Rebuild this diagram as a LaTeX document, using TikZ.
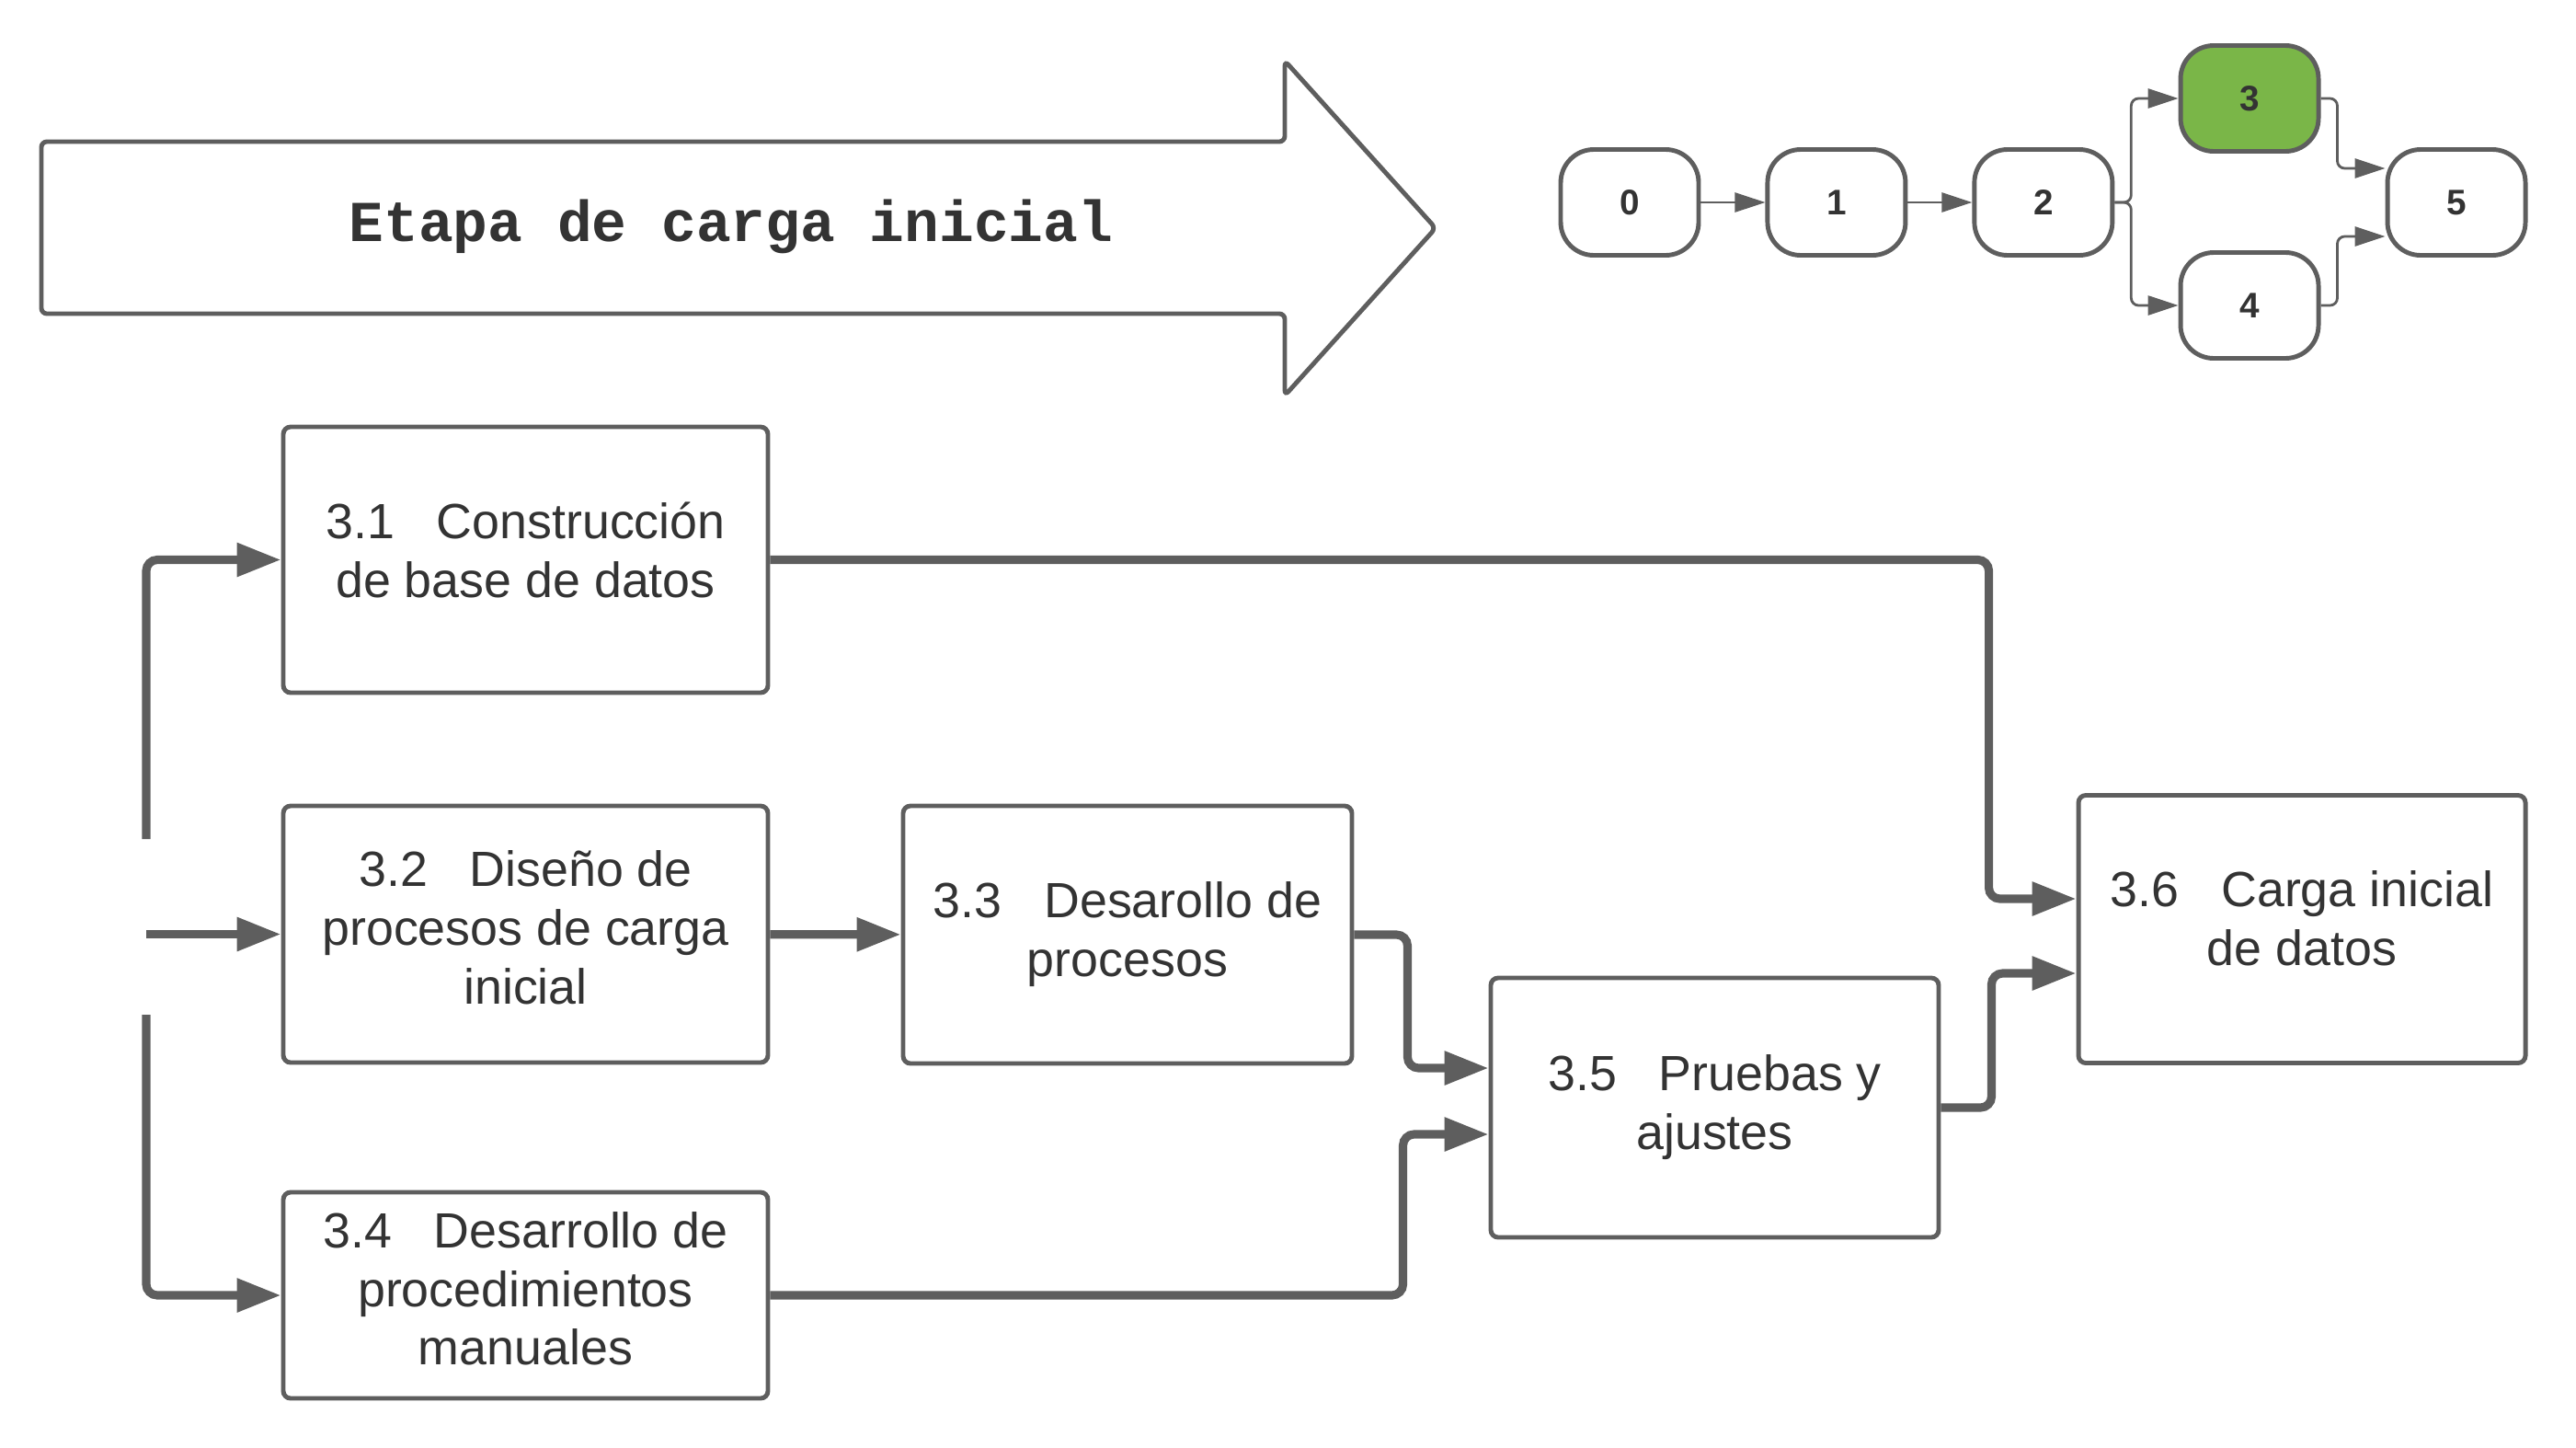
\documentclass[tikz,border=0pt]{standalone}
\usepackage{fontspec}
\setmainfont{Liberation Sans}
\newfontfamily\titlefont{Liberation Mono}
\usepackage{tikz}
\usetikzlibrary{arrows.meta,positioning}
\definecolor{linegray}{HTML}{5E5E5E}
\definecolor{textgray}{HTML}{333333}
\definecolor{stepgreen}{HTML}{7AB648}
\newcommand{\numgap}{\hspace{0.85em}}
\tikzset{
        taskbox/.style={draw=linegray, line width=1.4pt, rounded corners=0.08cm,
            minimum width=#1, align=center, text=textgray, inner sep=0pt,
            font=\fontsize{15.3}{18.2}\selectfont},
        stagenode/.style={draw=linegray, line width=1.4pt, rounded corners=0.36cm,
            minimum width=1.5cm, minimum height=1.15cm, inner sep=0pt,
            text=textgray, font=\fontsize{11}{13}\selectfont\bfseries},
        flow/.style={draw=linegray, line width=2.6pt, rounded corners=0.12cm,
            -{Triangle[length=0.48cm, width=0.35cm]}},
        thinflow/.style={draw=linegray, line width=0.8pt, rounded corners=0.08cm,
            -{Triangle[length=0.33cm, width=0.21cm]}},
    }
\begin{document}
\begin{tikzpicture}
    \useasboundingbox (0,0) rectangle (28.01,-15.73);
    % etapa arrow
    \draw[linegray, line width=1.4pt, rounded corners=0.06cm, fill=white]
        (0.45,-1.54) -- (13.97,-1.54) -- (13.97,-0.66) -- (15.61,-2.48)
        -- (13.97,-4.30) -- (13.97,-3.41) -- (0.45,-3.41) -- cycle;
    \node[text=textgray, font=\titlefont\fontsize{17.9}{21}\selectfont\bfseries] (etapa) at (7.95,-2.46) {Etapa de carga inicial};
    % stage map
    \node[stagenode] (n0) at (17.72,-2.20) {0};
    \node[stagenode, right=0.70cm of n0] (n1) {1};
    \node[stagenode, right=0.70cm of n1] (n2) {2};
    \node[stagenode, fill=stepgreen] (n3) at (24.46,-1.07) {3};
    \node[stagenode] (n4) at (24.46,-3.32) {4};
    \node[stagenode] (n5) at (26.71,-2.20) {5};
    \draw[thinflow] (n0) -- (n1);
    \draw[thinflow] (n1) -- (n2);
    \draw[thinflow] (n2.east) -- ++(0.18,0) |- (n3.west);
    \draw[thinflow] (n2.east) -- ++(0.18,0) |- (n4.west);
    \draw[thinflow] (n3.east) -- ++(0.18,0) |- ([yshift=0.37cm]n5.west);
    \draw[thinflow] (n4.east) -- ++(0.18,0) |- ([yshift=-0.37cm]n5.west);
    % tasks
    \node[taskbox=5.27cm, minimum height=2.89cm, text depth=0.22cm] (b31) at (5.715,-6.085) {3.1\numgap Construcción\\de base de datos};
    \node[taskbox=5.27cm, minimum height=2.79cm, text depth=0.15cm] (b32) at (5.715,-10.155) {3.2\numgap Diseño de\\procesos de carga\\inicial};
    \node[taskbox=5.27cm, minimum height=2.24cm, text depth=0.15cm] (b34) at (5.715,-14.08) {3.4\numgap Desarrollo de\\procedimientos\\manuales};
    \node[taskbox=4.88cm, minimum height=2.80cm] (b33) at (12.26,-10.16) {3.3\numgap Desarollo de\\procesos};
    \node[taskbox=4.87cm, minimum height=2.82cm] (b35) at (18.645,-12.04) {3.5\numgap Pruebas y\\ajustes};
    \node[taskbox=4.86cm, minimum height=2.91cm, text depth=0.24cm] (b36) at (25.03,-10.10) {3.6\numgap Carga inicial\\de datos};
    % left start
    \coordinate (s1) at (1.59,-9.12);
    \coordinate (s2) at (1.59,-10.155);
    \coordinate (s3) at (1.59,-11.03);
    \draw[flow] (s1) |- (b31.west);
    \draw[flow] (s2) -- (b32.west);
    \draw[flow] (s3) |- (b34.west);
    % task links
    \draw[flow] (b32) -- (b33);
    \draw[flow] (b31.east) -| ([xshift=-0.95cm,yshift=0.33cm]b36.west) -- ([yshift=0.33cm]b36.west);
    \draw[flow] (b33.east) -- ++(0.58,0) |- ([yshift=0.43cm]b35.west);
    \draw[flow] (b34.east) -| ([xshift=-0.93cm,yshift=-0.29cm]b35.west) -- ([yshift=-0.29cm]b35.west);
    \draw[flow] (b35.east) -- ++(0.55,0) |- ([yshift=-0.48cm]b36.west);
\end{tikzpicture}
\end{document}
